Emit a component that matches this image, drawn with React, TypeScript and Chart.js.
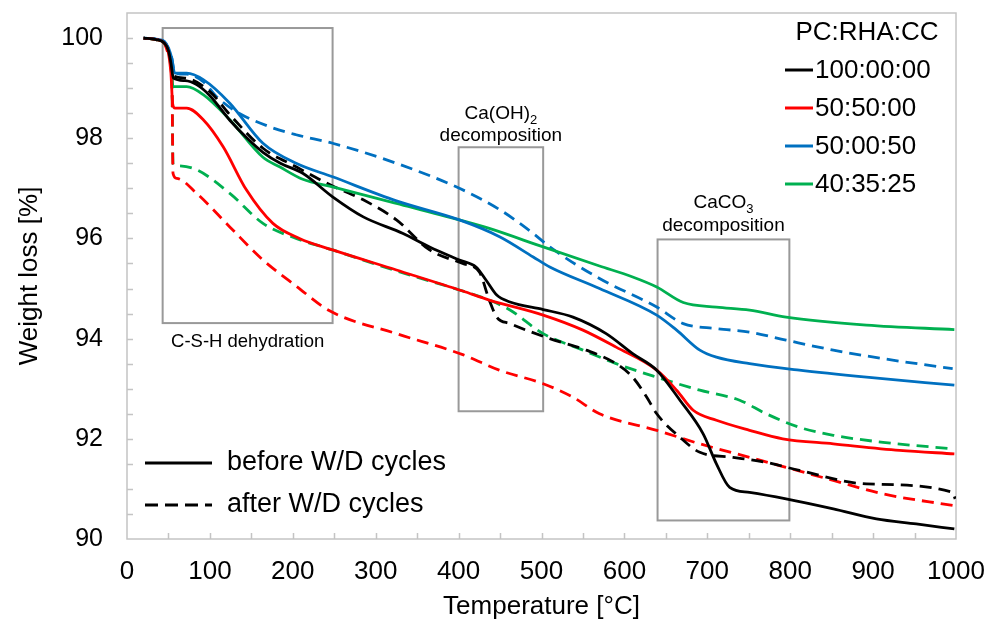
import React, { useEffect, useRef } from 'react';
import { Chart, registerables } from 'chart.js';

Chart.register(...registerables);

const FONT = '"Liberation Sans", Arial, Helvetica, sans-serif';

// ---------- data (temperature °C, weight %) ----------
const T_100_BEFORE = [20, 35, 45, 50, 53, 56, 70, 84, 100, 124, 145, 164, 185, 212, 248, 285, 333, 365, 401, 421, 433, 446, 462, 502, 538, 578, 610, 639, 667, 695, 711, 727, 751, 795, 852, 904, 952, 998];
const W_100_BEFORE = [100, 99.97, 99.9, 99.75, 99.5, 99.2, 99.15, 99.07, 98.85, 98.36, 98.0, 97.72, 97.5, 97.3, 96.83, 96.43, 96.1, 95.83, 95.57, 95.43, 95.17, 94.87, 94.73, 94.58, 94.43, 94.1, 93.7, 93.37, 92.77, 92.1, 91.5, 91.03, 90.93, 90.8, 90.6, 90.4, 90.3, 90.2];

const T_100_AFTER = [20, 35, 45, 50, 53, 56, 70, 100, 124, 164, 204, 245, 285, 325, 365, 405, 425, 437, 446, 462, 510, 554, 590, 610, 627, 639, 667, 691, 731, 771, 811, 892, 996, 999];
const W_100_AFTER = [100, 99.97, 99.9, 99.75, 99.5, 99.25, 99.2, 98.93, 98.47, 97.8, 97.43, 97.07, 96.77, 96.37, 95.77, 95.5, 95.33, 94.77, 94.43, 94.3, 94.0, 93.77, 93.5, 93.23, 92.83, 92.5, 92.03, 91.73, 91.63, 91.53, 91.37, 91.1, 90.93, 90.8];

const T_5050_BEFORE = [20, 35, 45, 50, 53, 55, 58, 72, 92, 116, 144, 176, 208, 248, 325, 405, 437, 502, 550, 590, 639, 663, 683, 711, 751, 791, 852, 932, 998];
const W_5050_BEFORE = [100, 99.97, 99.9, 99.7, 99.3, 98.7, 98.6, 98.6, 98.37, 97.83, 96.97, 96.3, 96.0, 95.77, 95.37, 94.95, 94.77, 94.47, 94.17, 93.83, 93.37, 92.97, 92.57, 92.37, 92.17, 92.0, 91.9, 91.77, 91.7];

const T_5050_AFTER = [20, 35, 45, 50, 54, 55.5, 60, 84, 124, 164, 204, 245, 325, 405, 449, 502, 538, 570, 639, 691, 751, 795, 852, 912, 996];
const W_5050_AFTER = [100, 99.97, 99.9, 99.7, 99.5, 97.3, 97.2, 96.9, 96.23, 95.57, 95.05, 94.55, 94.1, 93.68, 93.37, 93.1, 92.83, 92.5, 92.17, 91.9, 91.63, 91.43, 91.17, 90.9, 90.67];

const T_5000_BEFORE = [20, 35, 45, 50, 54, 57.5, 72, 92, 124, 164, 204, 248, 325, 401, 450, 490, 510, 570, 639, 663, 691, 711, 751, 811, 892, 998];
const W_5000_BEFORE = [100, 99.98, 99.93, 99.8, 99.6, 99.3, 99.3, 99.17, 98.7, 97.9, 97.5, 97.23, 96.75, 96.37, 96.03, 95.63, 95.43, 95.0, 94.47, 94.17, 93.77, 93.63, 93.5, 93.37, 93.23, 93.07];

const T_5000_AFTER = [20, 35, 45, 50, 54, 57.5, 72, 92, 108, 132, 172, 204, 248, 325, 401, 450, 490, 510, 570, 639, 671, 711, 751, 795, 852, 912, 996];
const W_5000_AFTER = [100, 99.98, 99.93, 99.8, 99.6, 99.3, 99.28, 99.13, 98.83, 98.53, 98.23, 98.07, 97.9, 97.5, 97.0, 96.57, 96.1, 95.83, 95.2, 94.63, 94.3, 94.2, 94.13, 93.97, 93.77, 93.6, 93.4];

const T_4035_BEFORE = [20, 35, 45, 50, 53, 55.5, 72, 92, 124, 164, 184, 212, 248, 325, 401, 437, 502, 570, 610, 639, 671, 711, 751, 795, 892, 998];
const W_4035_BEFORE = [100, 99.97, 99.9, 99.75, 99.4, 99.03, 99.03, 98.87, 98.37, 97.62, 97.43, 97.18, 97.03, 96.7, 96.37, 96.2, 95.83, 95.45, 95.23, 95.03, 94.72, 94.63, 94.57, 94.43, 94.27, 94.18];

const T_4035_AFTER = [20, 35, 45, 50, 54, 55.5, 60, 84, 124, 164, 204, 248, 329, 401, 437, 462, 502, 550, 590, 639, 691, 739, 771, 811, 852, 912, 996];
const W_4035_AFTER = [100, 99.97, 99.9, 99.75, 99.5, 97.5, 97.45, 97.37, 96.9, 96.3, 96.0, 95.77, 95.33, 94.97, 94.77, 94.57, 94.1, 93.77, 93.5, 93.23, 92.97, 92.77, 92.5, 92.23, 92.07, 91.93, 91.8];

const MIX_LABELS = ['100:00:00', '50:50:00', '50:00:50', '40:35:25'];
const MIX_COLORS = ['#000000', '#ff0000', '#0070c0', '#00b050'];
const LEGEND_TITLE = 'PC:RHA:CC';
const STATE_LABELS = ['before W/D cycles', 'after W/D cycles'];

// annotation regions (°C range, weight range)
const REGION_T0 = [43, 400, 640];
const REGION_T1 = [248, 502, 799];
const REGION_W0 = [94.31, 92.55, 90.37];
const REGION_W1 = [100.2, 97.82, 95.98];

const X_TICKS_MIN = 0, X_TICKS_MAX = 1000;
const Y_TICKS_MIN = 90, Y_TICKS_MAX = 100.5;

const DASH = [12, 7];

function pts(T: number[], W: number[]) {
  return T.map((t, i) => ({ x: t, y: W[i] }));
}

function drawSub(ctx: CanvasRenderingContext2D, main: string, sub: string, cx: number, cy: number, size: number) {
  ctx.font = `${size}px ${FONT}`;
  const w1 = ctx.measureText(main).width;
  ctx.font = `${Math.round(size * 0.68)}px ${FONT}`;
  const w2 = ctx.measureText(sub).width;
  const x0 = cx - (w1 + w2) / 2;
  ctx.textAlign = 'left';
  ctx.textBaseline = 'middle';
  ctx.font = `${size}px ${FONT}`;
  ctx.fillText(main, x0, cy);
  ctx.font = `${Math.round(size * 0.68)}px ${FONT}`;
  ctx.fillText(sub, x0 + w1, cy + size * 0.35);
}

const decorPlugin = {
  id: 'decor',
  beforeDatasetsDraw(chart: any) {
    const { ctx, chartArea: a, scales } = chart;
    const x = scales.x, y = scales.y;
    ctx.save();
    // frame
    ctx.strokeStyle = '#c4c4c4';
    ctx.lineWidth = 1.5;
    ctx.strokeRect(a.left, a.top, a.right - a.left, a.bottom - a.top);
    // inward ticks
    ctx.beginPath();
    for (let v = X_TICKS_MIN + 50; v < X_TICKS_MAX; v += 50) {
      const px = Math.round(x.getPixelForValue(v)) + 0.5;
      ctx.moveTo(px, a.bottom);
      ctx.lineTo(px, a.bottom - 6);
    }
    for (let v = Y_TICKS_MIN + 0.5; v < Y_TICKS_MAX; v += 0.5) {
      const py = Math.round(y.getPixelForValue(v)) + 0.5;
      ctx.moveTo(a.left, py);
      ctx.lineTo(a.left + 6, py);
    }
    ctx.stroke();
    // regions
    ctx.strokeStyle = '#999999';
    ctx.lineWidth = 2;
    for (let i = 0; i < REGION_T0.length; i++) {
      const l = x.getPixelForValue(REGION_T0[i]);
      const r = x.getPixelForValue(REGION_T1[i]);
      const t = y.getPixelForValue(REGION_W1[i]);
      const b = y.getPixelForValue(REGION_W0[i]);
      ctx.strokeRect(l, t, r - l, b - t);
    }
    ctx.restore();
  },
  afterDraw(chart: any) {
    const { ctx, chartArea: a, scales } = chart;
    const x = scales.x, y = scales.y;
    ctx.save();
    ctx.fillStyle = '#000';
    // region labels
    const cx0 = (x.getPixelForValue(REGION_T0[0]) + x.getPixelForValue(REGION_T1[0])) / 2;
    ctx.font = `18.5px ${FONT}`;
    ctx.textAlign = 'center';
    ctx.textBaseline = 'middle';
    ctx.fillText('C-S-H dehydration', cx0, y.getPixelForValue(REGION_W0[0]) + 19);

    const cx1 = (x.getPixelForValue(REGION_T0[1]) + x.getPixelForValue(REGION_T1[1])) / 2;
    const top1 = y.getPixelForValue(REGION_W1[1]);
    drawSub(ctx, 'Ca(OH)', '2', cx1, top1 - 33, 19);
    ctx.font = `19px ${FONT}`;
    ctx.textAlign = 'center';
    ctx.fillText('decomposition', cx1, top1 - 11);

    const cx2 = (x.getPixelForValue(REGION_T0[2]) + x.getPixelForValue(REGION_T1[2])) / 2;
    const top2 = y.getPixelForValue(REGION_W1[2]);
    drawSub(ctx, 'CaCO', '3', cx2, top2 - 37, 19);
    ctx.font = `19px ${FONT}`;
    ctx.textAlign = 'center';
    ctx.fillText('decomposition', cx2, top2 - 14);

    // mix legend (top right)
    ctx.font = `26px ${FONT}`;
    ctx.textAlign = 'center';
    ctx.fillText(LEGEND_TITLE, a.right - 89, a.top + 20);
    ctx.textAlign = 'left';
    for (let i = 0; i < MIX_LABELS.length; i++) {
      const yy = a.top + 57 + i * 38;
      ctx.strokeStyle = MIX_COLORS[i];
      ctx.lineWidth = 3;
      ctx.setLineDash([]);
      ctx.beginPath();
      ctx.moveTo(a.right - 171, yy);
      ctx.lineTo(a.right - 143, yy);
      ctx.stroke();
      ctx.fillText(MIX_LABELS[i], a.right - 141, yy + 1);
    }

    // state legend (bottom left)
    ctx.font = `27px ${FONT}`;
    for (let i = 0; i < STATE_LABELS.length; i++) {
      const yy = a.bottom - 76 + i * 42;
      ctx.strokeStyle = '#000';
      ctx.lineWidth = 3;
      ctx.setLineDash(i === 0 ? [] : [13, 7]);
      ctx.beginPath();
      ctx.moveTo(a.left + 18, yy);
      ctx.lineTo(a.left + 85, yy);
      ctx.stroke();
      ctx.setLineDash([]);
      ctx.fillText(STATE_LABELS[i], a.left + 100, yy);
    }
    ctx.restore();
  },
};

export default function App() {
  const ref = useRef<HTMLCanvasElement | null>(null);

  useEffect(() => {
    if (!ref.current) return;
    const series = [
      { T: T_100_BEFORE, W: W_100_BEFORE, c: 0, dashed: false },
      { T: T_5050_BEFORE, W: W_5050_BEFORE, c: 1, dashed: false },
      { T: T_5000_BEFORE, W: W_5000_BEFORE, c: 2, dashed: false },
      { T: T_4035_BEFORE, W: W_4035_BEFORE, c: 3, dashed: false },
      { T: T_100_AFTER, W: W_100_AFTER, c: 0, dashed: true },
      { T: T_5050_AFTER, W: W_5050_AFTER, c: 1, dashed: true },
      { T: T_5000_AFTER, W: W_5000_AFTER, c: 2, dashed: true },
      { T: T_4035_AFTER, W: W_4035_AFTER, c: 3, dashed: true },
    ];
    const chart = new Chart(ref.current, {
      type: 'line',
      data: {
        datasets: series.map((s) => ({
          label: `${MIX_LABELS[s.c]} ${s.dashed ? STATE_LABELS[1] : STATE_LABELS[0]}`,
          data: pts(s.T, s.W),
          borderColor: MIX_COLORS[s.c],
          backgroundColor: MIX_COLORS[s.c],
          borderWidth: 2.8,
          borderDash: s.dashed ? DASH : [],
          pointRadius: 0,
          fill: false,
          cubicInterpolationMode: 'monotone' as const,
        })),
      },
      options: {
        animation: false,
        responsive: false,
        maintainAspectRatio: false,
        layout: { padding: { left: 0, right: 33, top: 13, bottom: 0 } },
        plugins: {
          legend: { display: false },
          tooltip: { enabled: false },
        },
        scales: {
          x: {
            type: 'linear',
            min: X_TICKS_MIN,
            max: X_TICKS_MAX,
            grid: { display: false, drawTicks: false },
            border: { display: false },
            ticks: {
              stepSize: 50,
              autoSkip: false,
              maxRotation: 0,
              padding: 17,
              color: '#000',
              font: { family: FONT, size: 26 },
              callback: (v: any) => (Math.abs(v % 100) < 1e-6 ? String(Math.round(v)) : ''),
            },
            title: {
              display: true,
              text: 'Temperature [°C]',
              color: '#000',
              font: { family: FONT, size: 26 },
              padding: { top: 0, bottom: 14 },
            },
            afterFit: (s: any) => {
              s.height = 97;
              s.paddingLeft = 0; s.paddingRight = 0; s.paddingTop = 0; s.paddingBottom = 0;
            },
          },
          y: {
            type: 'linear',
            min: Y_TICKS_MIN,
            max: Y_TICKS_MAX,
            grid: { display: false, drawTicks: false },
            border: { display: false },
            ticks: {
              stepSize: 0.5,
              autoSkip: false,
              padding: 24,
              color: '#000',
              font: { family: FONT, size: 25 },
              callback: (v: any) => {
                const r = Math.round(v / 2) * 2;
                return Math.abs(v - r) < 1e-6 && v <= 100.001 ? String(r) : '';
              },
            },
            title: {
              display: true,
              text: 'Weight loss [%]',
              color: '#000',
              font: { family: FONT, size: 26 },
              padding: { top: 14, bottom: 0 },
            },
            afterFit: (s: any) => {
              s.width = 127;
              s.paddingLeft = 0; s.paddingRight = 0; s.paddingTop = 0; s.paddingBottom = 0;
            },
          },
        },
      },
      plugins: [decorPlugin],
    } as any);
    return () => chart.destroy();
  }, []);

  return (
    <div style={{ position: 'fixed', left: 0, top: 0, width: 989, height: 636, background: '#fff' }}>
      <canvas ref={ref} width={989} height={636} style={{ display: 'block' }} />
    </div>
  );
}
